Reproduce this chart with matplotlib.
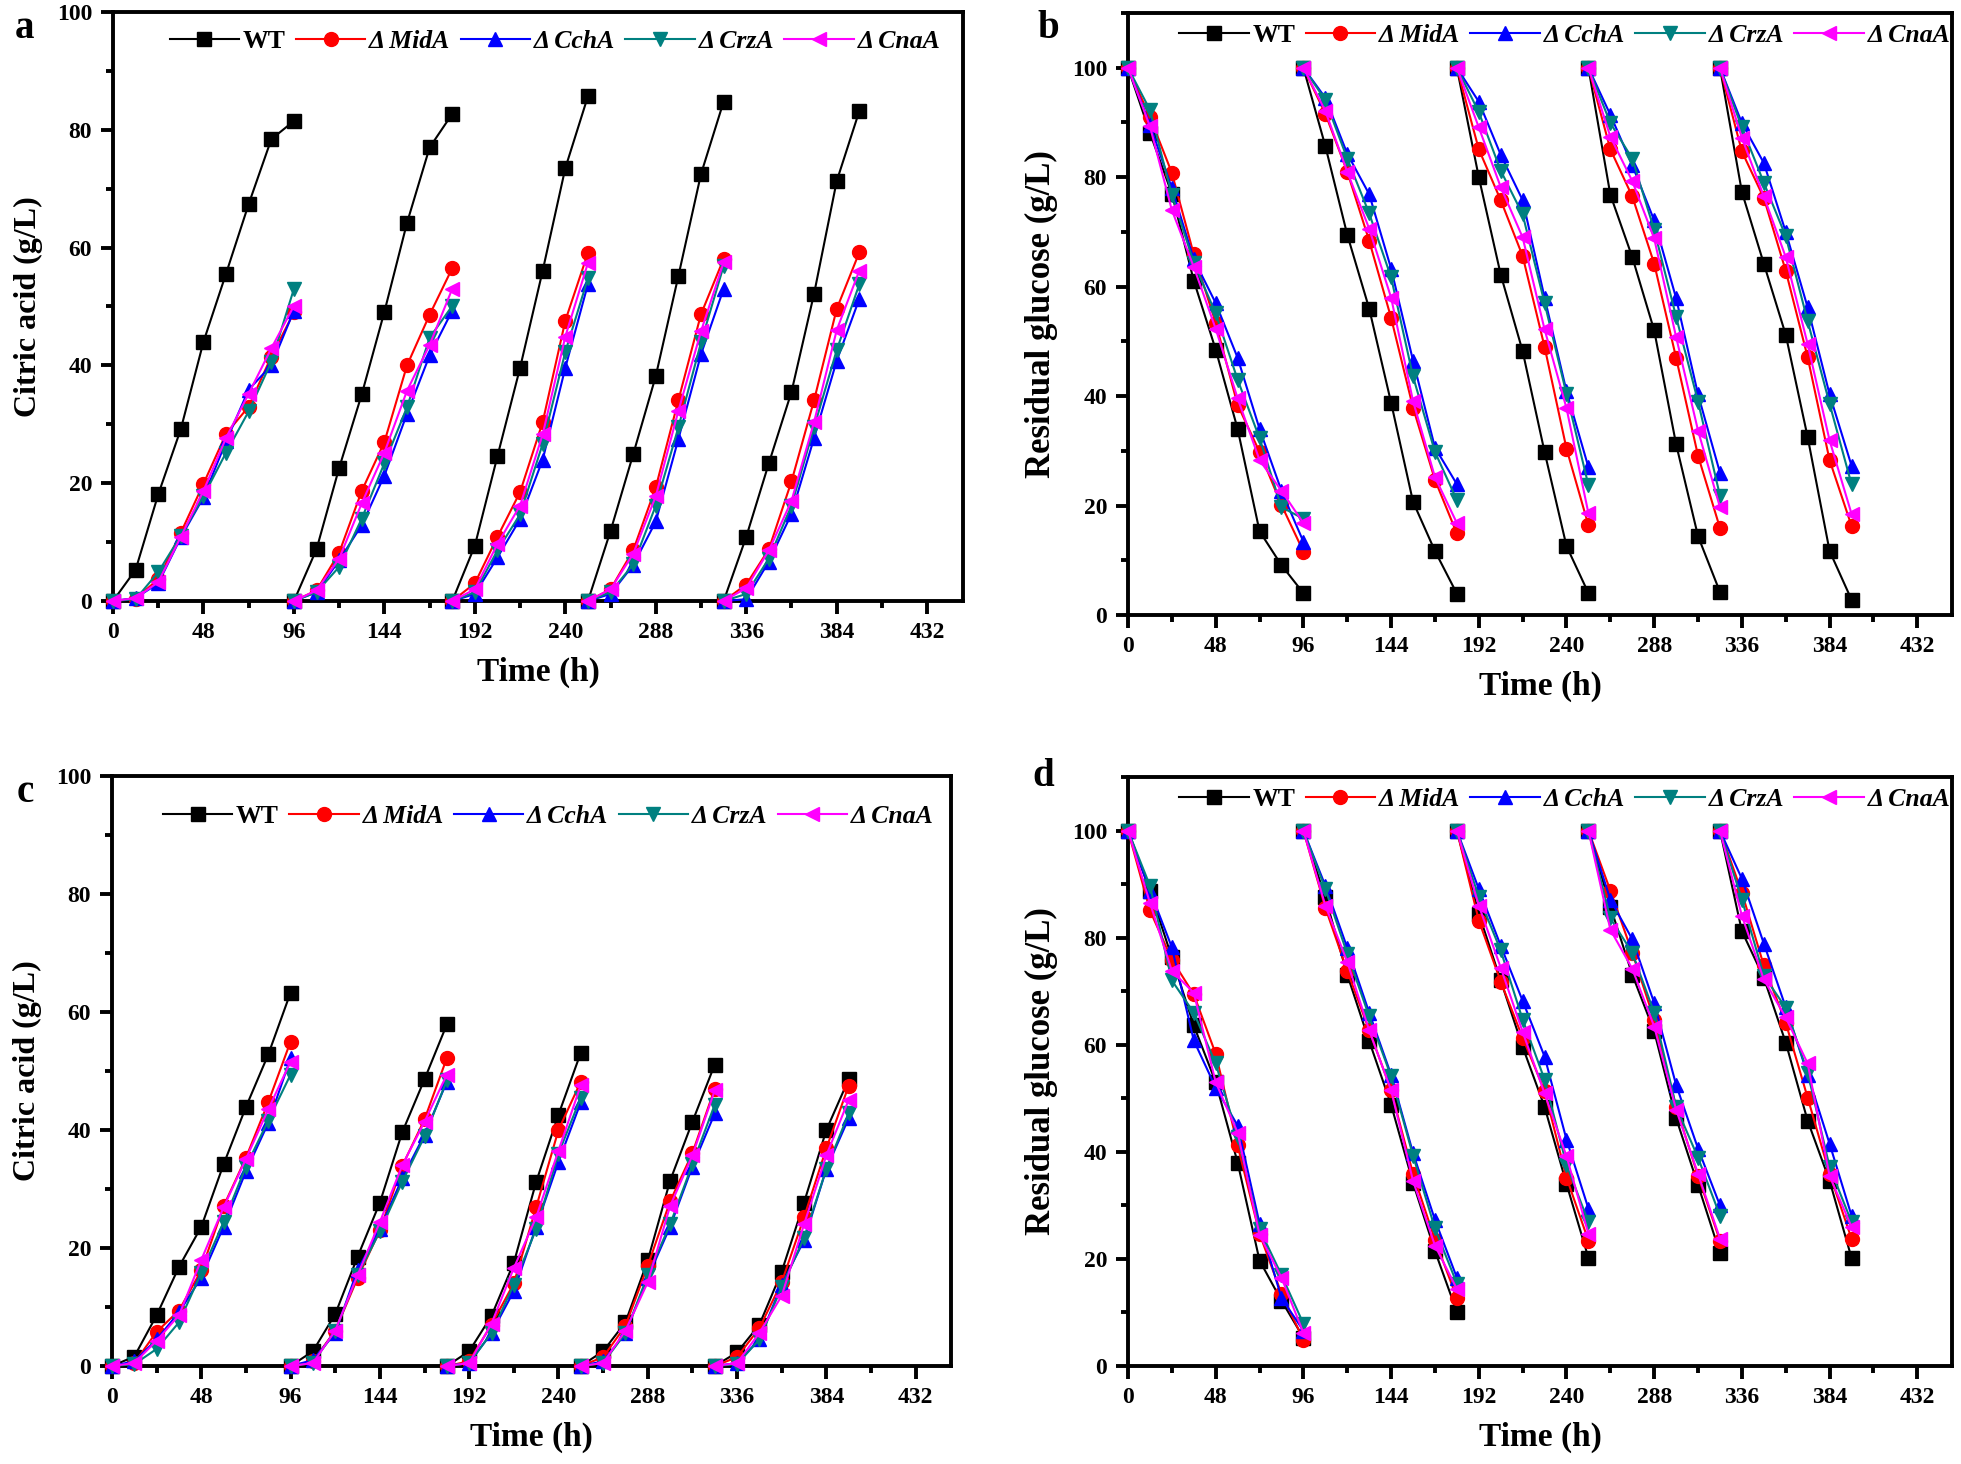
import matplotlib
matplotlib.use("Agg")
import matplotlib.pyplot as plt
from matplotlib.ticker import MultipleLocator

plt.rcParams['font.family'] = ['Liberation Serif', 'DejaVu Serif']
plt.rcParams['font.weight'] = 'bold'

# sampling times, five repeated batches
time_h = [0, 12, 24, 36, 48, 60, 72, 84, 96,
          96, 108, 120, 132, 144, 156, 168, 180,
          180, 192, 204, 216, 228, 240, 252,
          252, 264, 276, 288, 300, 312, 324,
          324, 336, 348, 360, 372, 384, 396]
batch_len = [9, 8, 7, 7, 7]

strains = ['WT', 'Δ MidA', 'Δ CchA', 'Δ CrzA', 'Δ CnaA']
colors = ['#000000', '#ff0000', '#0000ff', '#008080', '#ff00ff']
markers = ['s', 'o', '^', 'v', '<']

# panel a: citric acid (g/L)
a_wt   = [0, 5.3, 18.1, 29.2, 44.0, 55.6, 67.4, 78.4, 81.5,
          0, 8.8, 22.6, 35.1, 49.1, 64.2, 77.0, 82.7,
          0, 9.4, 24.6, 39.6, 56.1, 73.5, 85.7,
          0, 11.9, 24.9, 38.2, 55.2, 72.5, 84.8,
          0, 10.9, 23.4, 35.5, 52.2, 71.3, 83.2]
a_mida = [0, 0.4, 3.7, 11.6, 19.9, 28.4, 33.0, 41.5, 49.0,
          0, 1.8, 8.2, 18.7, 27.0, 40.0, 48.6, 56.5,
          0, 3.0, 10.9, 18.5, 30.4, 47.6, 59.1,
          0, 2.0, 8.6, 19.3, 34.1, 48.7, 58.1,
          0, 2.8, 8.8, 20.3, 34.1, 49.6, 59.2]
a_ccha = [0, 0.5, 3.0, 10.8, 17.6, 27.1, 35.9, 40.0, 49.3,
          0, 1.5, 6.9, 12.9, 21.3, 31.8, 41.7, 49.3,
          0, 1.2, 7.4, 13.9, 24.0, 39.6, 53.8,
          0, 1.2, 6.1, 13.5, 27.5, 41.9, 53.0,
          0, 0.3, 6.7, 14.8, 27.7, 40.8, 51.3]
a_crza = [0, 0.3, 4.9, 11.1, 17.8, 25.2, 32.2, 40.6, 53.0,
          0, 1.5, 5.8, 14.0, 23.4, 32.9, 44.7, 50.1,
          0, 1.5, 8.6, 14.7, 26.7, 42.3, 54.8,
          0, 1.5, 6.2, 16.2, 29.5, 43.9, 56.9,
          0, 1.2, 7.2, 16.2, 29.5, 42.6, 53.8]
a_cnaa = [0, 0.5, 3.2, 10.9, 18.7, 27.7, 35.2, 42.9, 50.1,
          0, 1.8, 7.2, 16.6, 25.2, 35.7, 43.5, 53.0,
          0, 2.0, 9.7, 16.2, 28.3, 44.9, 57.4,
          0, 2.0, 8.0, 17.8, 32.3, 45.8, 57.5,
          0, 2.2, 8.6, 17.0, 30.4, 46.0, 56.1]

# panel b: residual glucose (g/L)
b_wt   = [100, 88.1, 77.0, 61.1, 48.5, 34.0, 15.3, 9.1, 4.0,
          100, 85.7, 69.5, 56.0, 38.8, 20.7, 11.7, 3.9,
          100, 80.0, 62.2, 48.2, 29.8, 12.6, 4.0,
          100, 76.8, 65.4, 52.0, 31.2, 14.4, 4.2,
          100, 77.3, 64.2, 51.2, 32.5, 11.7, 2.8]
b_mida = [100, 91.0, 80.8, 65.9, 53.4, 38.4, 29.8, 20.1, 11.6,
          100, 91.6, 81.0, 68.4, 54.3, 37.9, 24.7, 14.9,
          100, 85.1, 75.8, 65.6, 49.0, 30.4, 16.4,
          100, 85.1, 76.5, 64.2, 47.0, 29.1, 15.9,
          100, 84.7, 76.2, 62.9, 47.1, 28.3, 16.3]
b_ccha = [100, 89.6, 78.0, 65.0, 57.0, 47.0, 34.0, 22.7, 13.4,
          100, 94.5, 84.3, 76.9, 63.3, 46.5, 30.6, 23.9,
          100, 93.8, 84.1, 75.8, 58.0, 40.9, 27.0,
          100, 91.4, 82.2, 72.1, 57.9, 40.3, 26.0,
          100, 89.9, 82.6, 70.0, 56.2, 40.3, 27.3]
b_crza = [100, 92.3, 76.8, 64.4, 55.1, 43.0, 32.3, 19.7, 17.6,
          100, 94.1, 83.4, 73.4, 61.7, 43.6, 29.8, 21.0,
          100, 91.9, 81.2, 73.2, 57.0, 40.4, 23.7,
          100, 89.9, 83.4, 70.4, 54.5, 39.0, 21.8,
          100, 89.1, 79.0, 69.2, 53.7, 38.6, 23.9]
b_cnaa = [100, 89.3, 74.0, 63.6, 52.3, 39.6, 28.3, 22.7, 16.8,
          100, 92.1, 81.0, 70.6, 58.0, 39.1, 25.2, 16.8,
          100, 89.1, 78.2, 69.0, 52.2, 37.8, 18.6,
          100, 87.4, 79.3, 68.8, 50.8, 33.7, 19.7,
          100, 87.2, 76.5, 65.4, 49.5, 31.9, 18.5]

# panel c: citric acid (g/L)
c_wt   = [0, 1.6, 8.6, 16.8, 23.6, 34.2, 43.9, 52.8, 63.3,
          0, 2.5, 8.8, 18.5, 27.7, 39.6, 48.6, 57.9,
          0, 2.5, 8.5, 17.5, 31.2, 42.6, 53.1,
          0, 2.5, 7.4, 17.9, 31.4, 41.4, 51.1,
          0, 2.3, 7.0, 16.0, 27.7, 40.0, 48.6]
c_mida = [0, 0.5, 5.8, 9.4, 16.2, 27.1, 35.3, 44.7, 55.0,
          0, 0.8, 6.0, 14.9, 23.0, 33.9, 41.8, 52.2,
          0, 0.8, 7.0, 14.0, 26.9, 40.0, 48.2,
          0, 1.5, 6.8, 17.0, 27.9, 36.1, 47.0,
          0, 1.5, 6.4, 14.2, 25.2, 36.9, 47.5]
c_ccha = [0, 0.8, 4.5, 9.1, 15.0, 23.6, 33.0, 41.2, 52.2,
          0, 1.0, 5.6, 16.3, 23.2, 31.8, 39.2, 48.2,
          0, 0.5, 5.6, 12.7, 23.6, 34.6, 44.7,
          0, 0.8, 5.6, 15.0, 23.6, 33.8, 42.8,
          0, 0.5, 4.5, 13.8, 21.3, 33.4, 42.0]
c_crza = [0, 0.3, 2.9, 7.4, 15.8, 24.4, 33.8, 41.6, 49.4,
          0, 0.5, 6.0, 15.4, 22.8, 31.2, 38.9, 48.4,
          0, 0.5, 5.6, 13.8, 23.2, 36.0, 45.5,
          0, 0.5, 5.6, 15.4, 24.0, 34.2, 44.3,
          0, 0.3, 4.5, 13.4, 21.7, 33.4, 42.8]
c_cnaa = [0, 0.5, 4.3, 8.6, 18.0, 26.9, 35.1, 43.5, 51.6,
          0, 0.5, 6.0, 15.4, 24.4, 34.0, 41.4, 49.4,
          0, 0.5, 7.2, 16.6, 25.2, 36.5, 47.6,
          0, 0.5, 6.0, 14.2, 27.1, 35.7, 46.7,
          0, 0.5, 5.6, 11.9, 24.0, 35.7, 45.1]

# panel d: residual glucose (g/L)
d_wt   = [100, 88.8, 76.3, 63.6, 53.0, 38.0, 19.7, 12.2, 5.3,
          100, 87.5, 73.1, 60.7, 48.8, 34.2, 21.5, 10.1,
          100, 84.5, 72.0, 59.6, 48.4, 34.0, 20.2,
          100, 85.8, 73.1, 62.5, 46.3, 33.8, 21.1,
          100, 81.2, 72.5, 60.4, 45.8, 34.6, 20.2]
d_mida = [100, 85.1, 75.9, 69.4, 58.3, 41.2, 24.7, 13.5, 4.9,
          100, 85.6, 73.8, 62.7, 51.5, 35.9, 23.6, 12.7,
          100, 83.2, 71.8, 61.3, 51.4, 35.2, 23.4,
          100, 88.8, 77.2, 64.7, 48.4, 35.5, 23.4,
          100, 88.4, 74.8, 64.1, 50.1, 35.9, 23.8]
d_ccha = [100, 88.8, 78.2, 60.8, 52.0, 44.9, 26.6, 12.7, 6.6,
          100, 89.7, 78.1, 66.0, 54.4, 39.8, 27.3, 16.5,
          100, 89.1, 78.5, 68.2, 57.8, 42.3, 29.4,
          100, 87.1, 79.7, 67.8, 52.5, 40.6, 30.0,
          100, 91.0, 78.9, 67.0, 54.4, 41.5, 28.1]
d_crza = [100, 89.7, 72.0, 66.0, 56.5, 42.8, 25.6, 17.0, 7.9,
          100, 89.1, 77.0, 65.3, 54.1, 39.3, 25.7, 15.4,
          100, 87.6, 77.6, 64.7, 53.5, 37.6, 26.9,
          100, 83.6, 77.2, 66.0, 48.4, 38.9, 28.1,
          100, 87.1, 72.9, 66.9, 54.8, 37.2, 26.9]
d_cnaa = [100, 86.5, 73.8, 69.7, 53.0, 43.6, 24.5, 16.5, 6.2,
          100, 86.0, 75.5, 62.7, 51.5, 34.6, 22.5, 14.4,
          100, 86.0, 74.4, 62.4, 50.9, 39.2, 24.7,
          100, 81.5, 74.2, 63.4, 47.9, 35.9, 23.8,
          100, 84.1, 72.2, 65.1, 56.5, 35.5, 26.0]

W, H = 1961, 1464
fig = plt.figure(figsize=(W / 100, H / 100), dpi=100)


def box(l, r, t, b):
    return [l / W, 1 - b / H, (r - l) / W, (b - t) / H]


panels = [
    ('a', box(113, 963, 12, 601), [a_wt, a_mida, a_ccha, a_crza, a_cnaa],
     'Citric acid (g/L)', 23, 100, (15, 28), 0.950, 0.52),
    ('b', box(1128, 1952, 13, 615), [b_wt, b_mida, b_ccha, b_crza, b_cnaa],
     'Residual glucose (g/L)', 25, 110, (1037, 28), 0.962, 0.53),
    ('c', box(112, 951, 776, 1366), [c_wt, c_mida, c_ccha, c_crza, c_cnaa],
     'Citric acid (g/L)', 23, 100, (17, 792), 0.932, 0.52),
    ('d', box(1128, 1952, 777, 1366), [d_wt, d_mida, d_ccha, d_crza, d_cnaa],
     'Residual glucose (g/L)', 25, 110, (1032, 776), 0.962, 0.53),
]

for letter, rect, series, ylab, ylsize, ytop, lpos, legy, legx in panels:
    ax = fig.add_axes(rect)
    for k in range(5):
        start = 0
        for n in batch_len:
            ax.plot(time_h[start:start + n], series[k][start:start + n],
                    color=colors[k], marker=markers[k], markersize=10, lw=1.5,
                    clip_on=False, zorder=3 + k,
                    label=strains[k] if start == 0 else None)
            start += n
    ax.set_xlim(0, 451)
    ax.set_ylim(0, ytop)
    ax.xaxis.set_major_locator(MultipleLocator(48))
    ax.xaxis.set_minor_locator(MultipleLocator(24))
    ax.set_yticks(range(0, 101, 20))
    ax.yaxis.set_minor_locator(MultipleLocator(10))
    ax.tick_params(which='major', direction='out', length=9, width=2.8,
                   labelsize=17, pad=6)
    ax.tick_params(which='minor', direction='out', length=5, width=2.8)
    for s in ax.spines.values():
        s.set_linewidth(2.8)
    ax.set_xlabel('Time (h)', fontsize=24, fontweight='bold', labelpad=10)
    ax.set_ylabel(ylab, fontsize=ylsize, fontweight='bold', labelpad=10)
    leg = ax.legend(loc='center', bbox_to_anchor=(legx, legy), ncol=5,
                    frameon=False, fontsize=18.5, handlelength=2.7,
                    handletextpad=0.15, columnspacing=0.4, borderaxespad=0)
    for t in leg.get_texts()[1:]:
        t.set_fontstyle('italic')
    fig.text(lpos[0] / W, 1 - lpos[1] / H, letter, fontsize=28,
             fontweight='bold', va='center', ha='left')

fig.savefig('out.png', dpi=100)
